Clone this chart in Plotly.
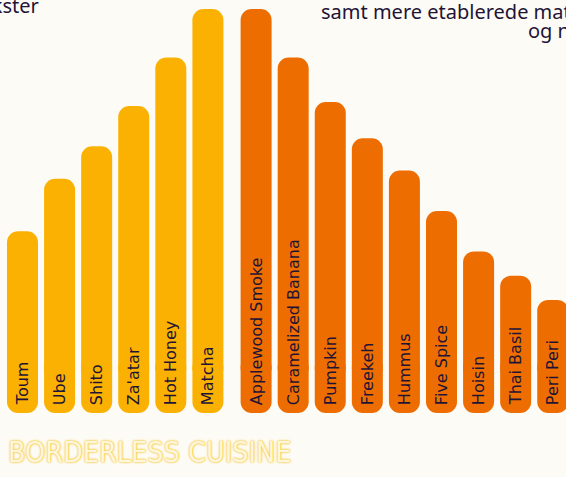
import plotly.graph_objects as go

# ---- data ----
categories = ["Toum", "Ube", "Shito", "Za'atar", "Hot Honey", "Matcha",
              "Applewood Smoke", "Caramelized Banana", "Pumpkin", "Freekeh",
              "Hummus", "Five Spice", "Hoisin", "Thai Basil", "Peri Peri"]
values = [45, 58, 66, 76, 88, 100, 100, 88, 77, 68, 60, 50, 40, 34, 28]
groups = ["a"] * 6 + ["b"] * 9

# ---- style ----
BG = "#FDFBF6"
COLORS = {"a": "#FBB101", "b": "#EE6D00"}
INK = "#1F1436"
W, H = 566, 477
GAP = 0.3
BAR_W = 0.836
RADIUS = 11
CAP = 14        # height (value units) of the bottom-rounded segment
TEXT_OFF = 1.2  # lift label off the bar bottom

xpos = [i + (GAP if g == "b" else 0) for i, g in enumerate(groups)]
cols = [COLORS[g] for g in groups]

fig = go.Figure()
# top segment: rounded at the top end
fig.add_trace(go.Bar(
    x=xpos, y=[v - CAP * 0.6 for v in values], base=[CAP * 0.6] * len(values),
    width=BAR_W, marker=dict(color=cols, line=dict(width=0), cornerradius=RADIUS),
    hoverinfo="skip"))
# bottom segment: negative bar, rounded at the bottom end
fig.add_trace(go.Bar(
    x=xpos, y=[-CAP] * len(values), base=[CAP] * len(values),
    width=BAR_W, marker=dict(color=cols, line=dict(width=0), cornerradius=RADIUS),
    hoverinfo="skip"))
# labels
fig.add_trace(go.Bar(
    x=xpos, y=[v - TEXT_OFF for v in values], base=[TEXT_OFF] * len(values),
    width=BAR_W, marker=dict(color="rgba(0,0,0,0)", line=dict(width=0)),
    text=categories, textposition="inside", insidetextanchor="start",
    textangle=-90, constraintext="none",
    textfont=dict(family="DejaVu Sans", size=16, color=INK),
    hoverinfo="skip"))

px_per_unit = 37.08
x0 = -22.5 / px_per_unit
x1 = (W - 22.5) / px_per_unit
base_px = 413
ypx = 4.04
y_lo = -(H - base_px) / ypx
y_hi = base_px / ypx

TOP_FONT = dict(family="Noto Sans", size=20, color=INK)
annotations = [
    dict(text="nye smagsvækster", xref="paper", yref="paper",
         x=41 / W, y=1 - 20.5 / H, xanchor="right", yanchor="bottom",
         showarrow=False, font=TOP_FONT),
    dict(text="samt mere etablerede mattrends", xref="paper", yref="paper",
         x=319 / W, y=1 - 26.5 / H, xanchor="left", yanchor="bottom",
         showarrow=False, font=TOP_FONT),
    dict(text="og nye fortolkninger", xref="paper", yref="paper",
         x=526 / W, y=1 - 46.5 / H, xanchor="left", yanchor="bottom",
         showarrow=False, font=TOP_FONT),
    dict(text="BORDERLESS CUISINE", xref="paper", yref="paper",
         x=6 / W, y=1 - 452 / H, xanchor="left", yanchor="middle",
         showarrow=False,
         font=dict(family="'Liberation Sans Narrow', 'DejaVu Sans Condensed', "
                          "'Roboto Condensed', 'Arial Narrow', sans-serif",
                   size=28.5, color="#FFF7DC",
                   shadow="0 0 1px #F5C73E, 0 0 2px #F5C73E, 0 0 3px #F9D465")),
]

fig.update_layout(
    width=W, height=H, margin=dict(l=0, r=0, t=0, b=0),
    paper_bgcolor=BG, plot_bgcolor=BG, barmode="overlay", showlegend=False,
    xaxis=dict(visible=False, range=[x0, x1], fixedrange=True),
    yaxis=dict(visible=False, range=[y_lo, y_hi], fixedrange=True),
    annotations=annotations,
)

fig.write_html("out.html", config={"displayModeBar": False})

# remove the default page margin so the figure fills the window
with open("out.html", "r", encoding="utf-8") as f:
    html = f.read()
html = html.replace("<head>", "<head><style>html,body{margin:0;padding:0;"
                    "overflow:hidden;background:%s}</style>" % BG, 1)
with open("out.html", "w", encoding="utf-8") as f:
    f.write(html)
